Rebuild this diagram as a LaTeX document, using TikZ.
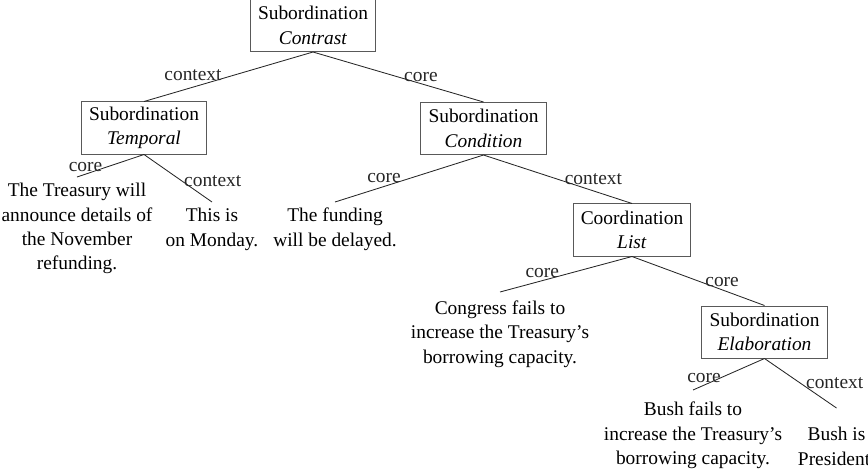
\documentclass[tikz,border=0pt]{standalone}
\usepackage{fontspec}
\setmainfont{Liberation Serif}
\begin{document}
\begin{tikzpicture}[
        x=0.025cm, y=-0.025cm,
        relbox/.style={draw=black!65, line width=0.7pt, align=center, inner xsep=5.4pt, minimum height=37pt, font=\fontsize{13.8}{17.3}\selectfont},
        leaf/.style={align=center, anchor=north, inner xsep=0pt, inner ysep=4.3pt, font=\fontsize{13.8}{17.3}\selectfont},
        edge/.style={black!85, line width=0.6pt},
        lbl/.style={inner sep=0pt, font=\fontsize{13.8}{17.3}\selectfont}
    ]
    \useasboundingbox (0,0) rectangle (868,469);

    % ==========================================
    % RELATION BOXES
    % ==========================================
    \node[relbox] (contrast)  at (313,25.5)  {Subordination\\\textit{Contrast}};
    \node[relbox] (temporal)  at (144,128)   {Subordination\\\textit{Temporal}};
    \node[relbox] (condition) at (483.5,128.5) {Subordination\\\textit{Condition}};
    \node[relbox] (list)      at (632,230)   {Coordination\\\textit{List}};
    \node[relbox] (elab)      at (764.5,332) {Subordination\\\textit{Elaboration}};

    % ==========================================
    % LEAVES (placed by their top)
    % ==========================================
    \node[leaf] (treasury) at (77,177)   {The Treasury will\\announce details of\\the November\\refunding.};
    \node[leaf] (monday)   at (212,202)  {This is\\on Monday.};
    \node[leaf] (funding)  at (335,202)  {The funding\\will be delayed.};
    \node[leaf, inner ysep=6pt] (congress) at (500,292) {Congress fails to\\increase the Treasury's\\borrowing capacity.};
    \node[leaf, inner ysep=8.5pt] (bushfail) at (693,390) {Bush fails to\\increase the Treasury's\\borrowing capacity.};
    \node[leaf, inner ysep=13.5pt] (bushis) at (836.5,408) {Bush is\\President.};

    % ==========================================
    % EDGES + LABELS
    % ==========================================
    \draw[edge] (contrast.south) -- (temporal.north) node[lbl, pos=.71, yshift=8.2pt] {context};
    \draw[edge] (contrast.south) -- (condition.north) node[lbl, pos=.633, yshift=4.7pt] {core};

    \draw[edge] (temporal.south) -- (treasury.north) node[lbl, pos=.873, yshift=5.1pt] {core};
    \draw[edge] (temporal.south) -- (monday.north) node[lbl, pos=.85, xshift=7.8pt, yshift=10pt] {context};

    \draw[edge] (condition.south) -- (funding.north) node[lbl, pos=.67, yshift=5.8pt] {core};
    \draw[edge] (condition.south) -- (list.north) node[lbl, pos=.74, yshift=8.5pt] {context};

    \draw[edge] (list.south) -- (congress.north) node[lbl, pos=.68, yshift=5.3pt] {core};
    \draw[edge] (list.south) -- (elab.north) node[lbl, pos=.68, yshift=5.7pt] {core};

    \draw[edge] (elab.south) -- (bushfail.north) node[lbl, pos=.846, yshift=5pt] {core};
    \draw[edge] (elab.south) -- (bushis.north) node[lbl, pos=.85, xshift=6.4pt, yshift=12.5pt] {context};

\end{tikzpicture}
\end{document}
